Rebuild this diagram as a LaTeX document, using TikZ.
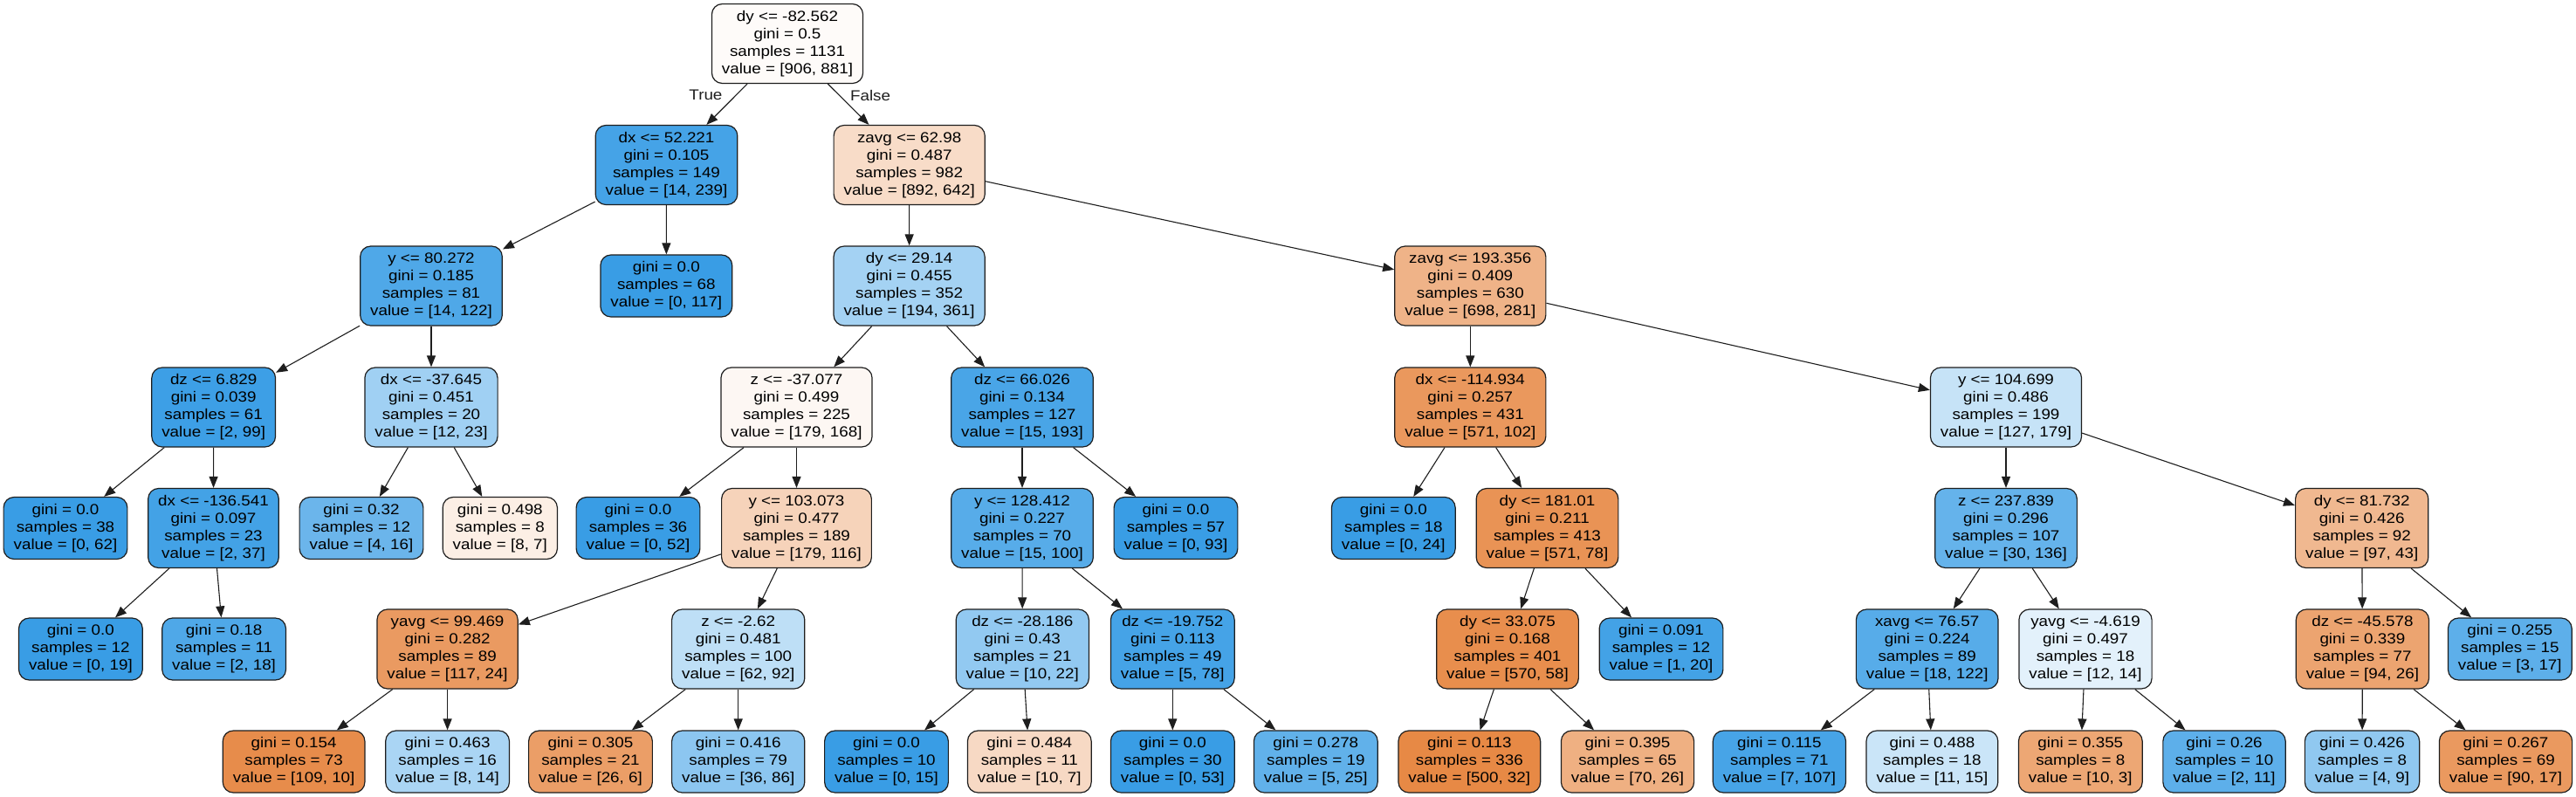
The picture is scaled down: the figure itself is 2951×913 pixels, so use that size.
\documentclass[tikz,border=0pt]{standalone}
\usepackage{fontspec}
\setmainfont{Liberation Sans}[FakeStretch=1.12]
\usepackage{tikz}
\usetikzlibrary{positioning,arrows.meta}
\definecolor{skOrange}{RGB}{229,129,57}
\definecolor{skBlue}{RGB}{57,157,229}
\definecolor{skEdge}{RGB}{30,30,30}
\tikzset{
    base/.style={font=\fontsize{16.8bp}{20bp}\selectfont, align=center},
    box/.style={base, rectangle, rounded corners=12bp, draw=skEdge, line width=1.2bp,
                inner xsep=11.5bp, inner ysep=0bp},
    split/.style={box, minimum height=91bp},
    leaf/.style={box, minimum height=71bp},
    orng/.style={fill=skOrange!#1!white},
    blu/.style={fill=skBlue!#1!white},
    flow/.style={-{Triangle[length=13bp,width=10bp]}, line width=1.1bp, color=skEdge},
    lbl/.style={base, inner sep=2bp}
}
\begin{document}
\begin{tikzpicture}[x=1bp, y=-1bp]
  \path[fill=white, use as bounding box] (0,0) rectangle (2951,913);

  % Root and level 1
  \node[split, orng=3] (n0) at (902,50) {dy <= -82.562\\gini = 0.5\\samples = 1131\\value = [906, 881]};
  \node[split, blu=94] (n1) at (763.5,189) {dx <= 52.221\\gini = 0.105\\samples = 149\\value = [14, 239]};
  \node[split, orng=28] (n12) at (1041.7,189) {zavg <= 62.98\\gini = 0.487\\samples = 982\\value = [892, 642]};

  % Level 2
  \node[split, blu=89] (n2) at (494,327.5) {y <= 80.272\\gini = 0.185\\samples = 81\\value = [14, 122]};
  \node[leaf, blu=100] (n11) at (763.3,327.5) {gini = 0.0\\samples = 68\\value = [0, 117]};
  \node[split, blu=46] (n13) at (1041.6,327.5) {dy <= 29.14\\gini = 0.455\\samples = 352\\value = [194, 361]};
  \node[split, orng=60] (n32) at (1684.3,327.5) {zavg <= 193.356\\gini = 0.409\\samples = 630\\value = [698, 281]};

  % Level 3
  \node[split, blu=98] (n3) at (244.7,466.5) {dz <= 6.829\\gini = 0.039\\samples = 61\\value = [2, 99]};
  \node[split, blu=48] (n8) at (494,466.5) {dx <= -37.645\\gini = 0.451\\samples = 20\\value = [12, 23]};
  \node[split, orng=6] (n14) at (912.5,466.5) {z <= -37.077\\gini = 0.499\\samples = 225\\value = [179, 168]};
  \node[split, blu=92] (n23) at (1171,466.5) {dz <= 66.026\\gini = 0.134\\samples = 127\\value = [15, 193]};
  \node[split, orng=82] (n33) at (1684.3,466.5) {dx <= -114.934\\gini = 0.257\\samples = 431\\value = [571, 102]};
  \node[split, blu=29] (n40) at (2298,466.5) {y <= 104.699\\gini = 0.486\\samples = 199\\value = [127, 179]};

  % Level 4
  \node[leaf, blu=100] (n4) at (75,605) {gini = 0.0\\samples = 38\\value = [0, 62]};
  \node[split, blu=95] (n5) at (244.5,605) {dx <= -136.541\\gini = 0.097\\samples = 23\\value = [2, 37]};
  \node[leaf, blu=75] (n9) at (414,605) {gini = 0.32\\samples = 12\\value = [4, 16]};
  \node[leaf, orng=13] (n10) at (572.8,605) {gini = 0.498\\samples = 8\\value = [8, 7]};
  \node[leaf, blu=100] (n15) at (731,605) {gini = 0.0\\samples = 36\\value = [0, 52]};
  \node[split, orng=35] (n16) at (912.5,605) {y <= 103.073\\gini = 0.477\\samples = 189\\value = [179, 116]};
  \node[split, blu=85] (n24) at (1171,605) {y <= 128.412\\gini = 0.227\\samples = 70\\value = [15, 100]};
  \node[leaf, blu=100] (n31) at (1347,605) {gini = 0.0\\samples = 57\\value = [0, 93]};
  \node[leaf, blu=100] (n34) at (1596.3,605) {gini = 0.0\\samples = 18\\value = [0, 24]};
  \node[split, orng=86] (n35) at (1772.5,605) {dy <= 181.01\\gini = 0.211\\samples = 413\\value = [571, 78]};
  \node[split, blu=78] (n41) at (2298,605) {z <= 237.839\\gini = 0.296\\samples = 107\\value = [30, 136]};
  \node[split, orng=56] (n48) at (2705.7,605) {dy <= 81.732\\gini = 0.426\\samples = 92\\value = [97, 43]};

  % Level 5
  \node[leaf, blu=100] (n6) at (92.4,743.5) {gini = 0.0\\samples = 12\\value = [0, 19]};
  \node[leaf, blu=89] (n7) at (256.6,743.5) {gini = 0.18\\samples = 11\\value = [2, 18]};
  \node[split, orng=80] (n17) at (512.6,743.5) {yavg <= 99.469\\gini = 0.282\\samples = 89\\value = [117, 24]};
  \node[split, blu=33] (n20) at (845.7,743.5) {z <= -2.62\\gini = 0.481\\samples = 100\\value = [62, 92]};
  \node[split, blu=55] (n25) at (1171.3,743.5) {dz <= -28.186\\gini = 0.43\\samples = 21\\value = [10, 22]};
  \node[split, blu=94] (n28) at (1343.3,743.5) {dz <= -19.752\\gini = 0.113\\samples = 49\\value = [5, 78]};
  \node[split, orng=90] (n36) at (1727,743.5) {dy <= 33.075\\gini = 0.168\\samples = 401\\value = [570, 58]};
  \node[leaf, blu=95] (n39) at (1903,743.5) {gini = 0.091\\samples = 12\\value = [1, 20]};
  \node[split, blu=85] (n42) at (2207.7,743.5) {xavg <= 76.57\\gini = 0.224\\samples = 89\\value = [18, 122]};
  \node[split, blu=14] (n45) at (2389,743.5) {yavg <= -4.619\\gini = 0.497\\samples = 18\\value = [12, 14]};
  \node[split, orng=72] (n49) at (2706.4,743.5) {dz <= -45.578\\gini = 0.339\\samples = 77\\value = [94, 26]};
  \node[leaf, blu=82] (n52) at (2875.3,743.5) {gini = 0.255\\samples = 15\\value = [3, 17]};

  % Level 6
  \node[leaf, orng=91] (n18) at (336.6,872.5) {gini = 0.154\\samples = 73\\value = [109, 10]};
  \node[leaf, blu=43] (n19) at (512.6,872.5) {gini = 0.463\\samples = 16\\value = [8, 14]};
  \node[leaf, orng=77] (n21) at (676.5,872.5) {gini = 0.305\\samples = 21\\value = [26, 6]};
  \node[leaf, blu=58] (n22) at (845.7,872.5) {gini = 0.416\\samples = 79\\value = [36, 86]};
  \node[leaf, blu=100] (n26) at (1015.5,872.5) {gini = 0.0\\samples = 10\\value = [0, 15]};
  \node[leaf, orng=30] (n27) at (1179.3,872.5) {gini = 0.484\\samples = 11\\value = [10, 7]};
  \node[leaf, blu=100] (n29) at (1343.3,872.5) {gini = 0.0\\samples = 30\\value = [0, 53]};
  \node[leaf, blu=80] (n30) at (1507.3,872.5) {gini = 0.278\\samples = 19\\value = [5, 25]};
  \node[leaf, orng=94] (n37) at (1683.3,872.5) {gini = 0.113\\samples = 336\\value = [500, 32]};
  \node[leaf, orng=63] (n38) at (1864.5,872.5) {gini = 0.395\\samples = 65\\value = [70, 26]};
  \node[leaf, blu=93] (n43) at (2038.4,872.5) {gini = 0.115\\samples = 71\\value = [7, 107]};
  \node[leaf, blu=27] (n44) at (2213.4,872.5) {gini = 0.488\\samples = 18\\value = [11, 15]};
  \node[leaf, orng=70] (n46) at (2383.3,872.5) {gini = 0.355\\samples = 8\\value = [10, 3]};
  \node[leaf, blu=82] (n47) at (2548,872.5) {gini = 0.26\\samples = 10\\value = [2, 11]};
  \node[leaf, blu=56] (n50) at (2706,872.5) {gini = 0.426\\samples = 8\\value = [4, 9]};
  \node[leaf, orng=81] (n51) at (2870.5,872.5) {gini = 0.267\\samples = 69\\value = [90, 17]};

  % Root split with its labels
  \draw[flow] (n0) -- node[lbl, pos=0.28, left=13bp] {True} (n1);
  \draw[flow] (n0) -- node[lbl, pos=0.28, right=10bp] {False} (n12);

  % All other splits
  \foreach \a/\b in {1/2, 1/11, 2/3, 2/8, 3/4, 3/5, 5/6, 5/7, 8/9, 8/10,
                     12/13, 12/32, 13/14, 13/23, 14/15, 14/16, 16/17, 16/20,
                     17/18, 17/19, 20/21, 20/22, 23/24, 23/31, 24/25, 24/28,
                     25/26, 25/27, 28/29, 28/30, 32/33, 32/40, 33/34, 33/35,
                     35/36, 35/39, 36/37, 36/38, 40/41, 40/48, 41/42, 41/45,
                     42/43, 42/44, 45/46, 45/47, 48/49, 48/52, 49/50, 49/51}
    \draw[flow] (n\a) -- (n\b);
\end{tikzpicture}
\end{document}
